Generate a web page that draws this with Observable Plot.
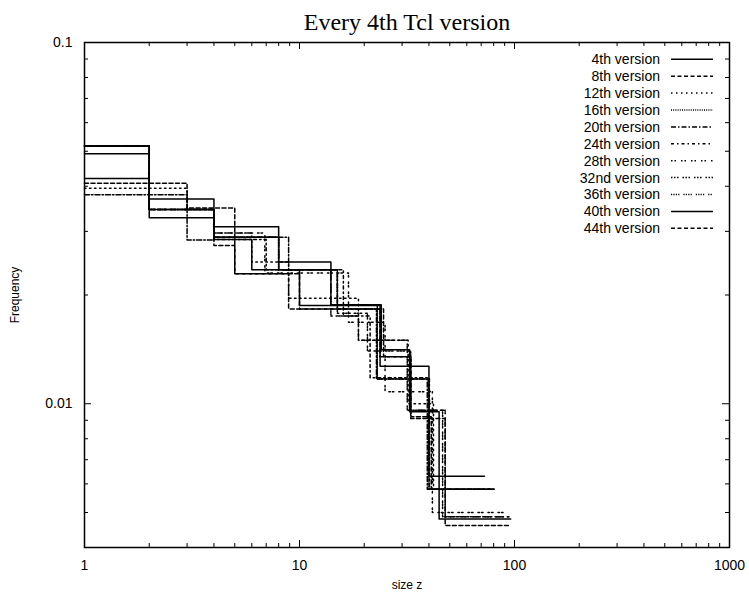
<!DOCTYPE html>
<html>
<head>
<meta charset="utf-8">
<script src="https://cdn.jsdelivr.net/npm/d3@7"></script>
<script src="https://cdn.jsdelivr.net/npm/@observablehq/plot@0.6"></script>
<style>
  html, body { margin: 0; padding: 0; background: #fff; }
  #wrap { position: relative; width: 749px; height: 599px; }
  #legend { position: absolute; left: 0; top: 0; }
</style>
</head>
<body>
<div id="wrap"></div>
<script>
// ---- data ----
const versions = ["4th version","8th version","12th version","16th version","20th version","24th version","28th version","32nd version","36th version","40th version","44th version"];
const dashes = [null, "4,2.5", "1.5,3.5", "1,1.2", "5,2,1.5,2", "3,3,1.5,3", "1.5,2,1.5,5", "1.5,1.5,1.5,1.5,1.5,4", "1.2,1.2,1.2,1.2,1.2,1.2,1.2,4", null, "4,2.5"];
// bin edges (size z) per version
const edges4  = [1, 2, 4, 6, 10, 23.7, 40, 72.5];
const edges8  = [1, 3, 5, 8.9, 23.7, 33, 41, 80];
const edges12 = [1, 3, 4, 6, 8.9, 18.8, 32, 42, 80];
const edges16 = [1, 2, 4, 8, 15, 23, 40, 79];
const edges20 = [1, 3, 4, 8.9, 15, 22.8, 39.3, 80];
const edges24 = [1, 2, 4, 7, 16, 21.3, 40.2, 81];
const edges28 = [1, 2, 4, 6.9, 16.9, 25, 41.5, 89];
const edges32 = [1, 2, 4, 8, 15, 20.7, 32.9, 46.3, 95];
const edges36 = [1, 2, 4, 8, 14, 18.8, 31.7, 47.6, 95];
const edges40 = [1, 2, 4, 8, 14, 24, 32.5, 44.6, 96];
const edges44 = [1, 2, 4, 5, 10, 24.6, 32.9, 47.6, 96];
// frequency in each bin
const freq4  = [0.0420, 0.0327, 0.0285, 0.0235, 0.0187, 0.0127, 0.0063];
const freq8  = [0.0408, 0.0348, 0.0229, 0.0183, 0.0135, 0.0092, 0.0058];
const freq12 = [0.0395, 0.0345, 0.0297, 0.0247, 0.0196, 0.0150, 0.0100, 0.0058];
const freq16 = [0.0517, 0.0345, 0.0289, 0.0235, 0.0188, 0.0117, 0.0058];
const freq20 = [0.0379, 0.0284, 0.0289, 0.0235, 0.0183, 0.0117, 0.0058];
const freq24 = [0.0517, 0.0345, 0.0285, 0.0235, 0.0175, 0.0118, 0.0058];
const freq28 = [0.0517, 0.0345, 0.0297, 0.0230, 0.0168, 0.0108, 0.0050];
const freq32 = [0.0517, 0.0345, 0.0289, 0.0235, 0.0178, 0.0140, 0.0096, 0.00487];
const freq36 = [0.0517, 0.0345, 0.0289, 0.0235, 0.0175, 0.0150, 0.0096, 0.00487];
const freq40 = [0.0492, 0.0369, 0.0309, 0.0247, 0.0188, 0.0141, 0.0095, 0.0048];
const freq44 = [0.0517, 0.0345, 0.0274, 0.0229, 0.0183, 0.0135, 0.0091, 0.0046];

const allEdges = [edges4, edges8, edges12, edges16, edges20, edges24, edges28, edges32, edges36, edges40, edges44];
const allFreq  = [freq4, freq8, freq12, freq16, freq20, freq24, freq28, freq32, freq36, freq40, freq44];

const xTicks = [1, 10, 100, 1000];
const xTickLabels = ["1", "10", "100", "1000"];
const yTicks = [0.01, 0.1];
const yTickLabels = ["0.01", "0.1"];
const title = "Every 4th Tcl version";
const xLabel = "size z";
const yLabel = "Frequency";

// ---- build ----
const W = 749, H = 599, mL = 84, mR = 20, mT = 42, mB = 52;
const fW = W - mL - mR, fH = H - mT - mB;

const seriesRows = versions.map((v, i) => {
  const e = allEdges[i], f = allFreq[i];
  return e.map((x, j) => ({version: v, x, y: j < f.length ? f[j] : f[f.length - 1]}));
});

const xMinor = [];
for (const d of [1, 10, 100]) for (let k = 2; k <= 9; k++) xMinor.push(d * k);
const yMinor = [];
for (const d of [0.001, 0.01]) for (let k = 2; k <= 9; k++) { const v = +(d * k).toPrecision(3); if (v >= 0.004) yMinor.push(v); }

const majLen = 7, minLen = 4;
const tickMarks = [
  Plot.ruleX(xTicks, {x: d => d, insetTop: fH - majLen, stroke: "#000", strokeWidth: 1}),
  Plot.ruleX(xTicks, {x: d => d, insetBottom: fH - majLen, stroke: "#000", strokeWidth: 1}),
  Plot.ruleX(xMinor, {x: d => d, insetTop: fH - minLen, stroke: "#000", strokeWidth: 1}),
  Plot.ruleX(xMinor, {x: d => d, insetBottom: fH - minLen, stroke: "#000", strokeWidth: 1}),
  Plot.ruleY(yTicks, {y: d => d, insetRight: fW - majLen, stroke: "#000", strokeWidth: 1}),
  Plot.ruleY(yTicks, {y: d => d, insetLeft: fW - majLen, stroke: "#000", strokeWidth: 1}),
  Plot.ruleY(yMinor, {y: d => d, insetRight: fW - minLen, stroke: "#000", strokeWidth: 1}),
  Plot.ruleY(yMinor, {y: d => d, insetLeft: fW - minLen, stroke: "#000", strokeWidth: 1})
];

const lineMarks = seriesRows.map((rows, i) => Plot.line(rows, {
  x: "x", y: "y", curve: "step-after", stroke: "#000", strokeWidth: 1.5,
  strokeDasharray: dashes[i] || undefined
}));

const chart = Plot.plot({
  width: W, height: H,
  marginLeft: mL, marginRight: mR, marginTop: mT, marginBottom: mB,
  x: {type: "log", domain: [1, 1000], axis: null},
  y: {type: "log", domain: [0.004, 0.1], axis: null},
  style: {fontFamily: "'Liberation Sans', Arial, sans-serif", fontSize: "14px", background: "#fff", color: "#000"},
  marks: [
    ...lineMarks,
    ...tickMarks,
    Plot.frame({stroke: "#000", strokeWidth: 1.5}),
    Plot.axisX(xTicks, {anchor: "bottom", tickSize: 0, tickPadding: 13, label: null,
      tickFormat: (d) => xTickLabels[xTicks.indexOf(d)], fontSize: 14, fill: "#000"}),
    Plot.axisY(yTicks, {anchor: "left", tickSize: 0, tickPadding: 12, label: null,
      tickFormat: (d) => yTickLabels[yTicks.indexOf(d)], fontSize: 14, fill: "#000"}),
    Plot.text([title], {frameAnchor: "top", dy: -20, fontSize: 24, fontFamily: "'Liberation Serif', 'Times New Roman', serif", fill: "#000", lineAnchor: "middle"}),
    Plot.text([xLabel], {frameAnchor: "bottom", dy: 38, fontSize: 12, fill: "#000", lineAnchor: "middle"}),
    Plot.text([yLabel], {frameAnchor: "left", dx: -69, rotate: -90, fontSize: 12, fill: "#000", lineAnchor: "middle", textAnchor: "middle"})
  ]
});

const wrap = document.getElementById("wrap");
wrap.appendChild(chart);

// ---- legend (top-right, inside the frame) ----
const leg = d3.select(wrap).append("svg").attr("id", "legend").attr("width", W).attr("height", H)
  .style("pointer-events", "none");
const rowY0 = 59.3, rowStep = 16.9, textRight = 660, sX1 = 671, sX2 = 713;
versions.forEach((v, i) => {
  const y = rowY0 + i * rowStep;
  leg.append("text").attr("x", textRight).attr("y", y).attr("dy", "0.35em")
    .attr("text-anchor", "end").attr("font-family", "'Liberation Sans', Arial, sans-serif")
    .attr("font-size", 14).attr("fill", "#000").text(v);
  leg.append("line").attr("x1", sX1).attr("x2", sX2).attr("y1", y).attr("y2", y)
    .attr("stroke", "#000").attr("stroke-width", 1.5)
    .attr("stroke-dasharray", dashes[i] || null);
});
</script>
</body>
</html>
